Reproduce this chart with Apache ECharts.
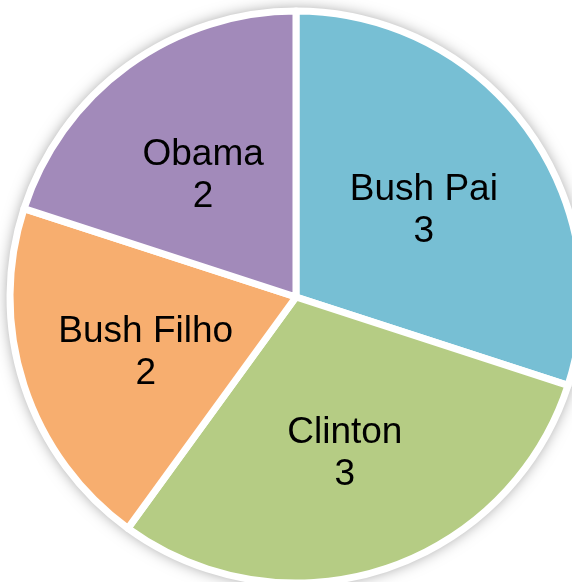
<!DOCTYPE html>
<html lang="pt">
<head>
    <meta charset="UTF-8">
    <title>Pie</title>
    <script src="https://cdn.jsdelivr.net/npm/echarts@6/dist/echarts.min.js"></script>
    <style>
        *{ padding:0; margin:0; }
        html,body{ width:572px; height:582px; background:#fff; overflow:hidden; }
        #main{ width:572px; height:582px; }
    </style>
</head>
<body>
<div id="main"></div>
<script>
    var nomes = ['Bush Pai', 'Clinton', 'Bush Filho', 'Obama'];
    var valores = [3, 3, 2, 2];
    var cores = ['#77BFD4', '#B5CC84', '#F7AE6F', '#A28ABA'];

    var dados = [], rotulos = [];
    for (var i = 0; i < nomes.length; i++) {
        dados.push({ name: nomes[i], value: valores[i], itemStyle: { color: cores[i] } });
        rotulos.push({ name: nomes[i], value: valores[i] });
    }

    var myChart = echarts.init(document.getElementById('main'));
    var option = {
        animation: false,
        series: [
            {
                // sombra por baixo do círculo
                type: 'pie',
                center: [296, 297],
                radius: 286,
                silent: true,
                label: { show: false },
                itemStyle: {
                    color: '#fff',
                    shadowBlur: 16,
                    shadowColor: 'rgba(0,0,0,0.5)'
                },
                data: [{ name: '', value: 1 }]
            },
            {
                type: 'pie',
                center: [296, 297],
                radius: 286,
                startAngle: 90,
                clockwise: true,
                label: { show: false },
                labelLine: { show: false },
                itemStyle: {
                    borderColor: '#fff',
                    borderWidth: 7
                },
                data: dados
            },
            {
                // só os rótulos
                type: 'pie',
                center: [296, 297],
                radius: 310,
                startAngle: 90,
                clockwise: true,
                silent: true,
                itemStyle: { color: 'rgba(0,0,0,0)' },
                label: {
                    show: true,
                    position: 'inner',
                    formatter: '{b}\n{c}',
                    color: '#000',
                    fontFamily: 'Liberation Sans, Arial, sans-serif',
                    fontSize: 37,
                    lineHeight: 42,
                    offset: [0, 7]
                },
                labelLine: { show: false },
                data: rotulos
            }
        ]
    };
    myChart.setOption(option);
</script>
</body>
</html>
